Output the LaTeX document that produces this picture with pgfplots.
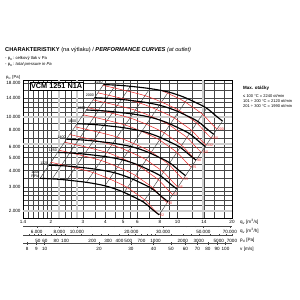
\documentclass[border=0pt]{standalone}
\usepackage{pgfplots}
\pgfplotsset{compat=1.18}
\usepackage{fontspec}
\setmainfont{Liberation Sans}
\definecolor{gridc}{RGB}{70,70,70}
\definecolor{redc}{RGB}{235,40,40}
\definecolor{hl}{RGB}{205,205,205}
\pgfplotsset{
  redl/.style={redc, line width=0.5pt, smooth},
  fan/.style={black, line width=1.15pt, smooth},
  sysl/.style={gridc, line width=0.45pt}
}
\begin{document}
\begin{tikzpicture}
\path[use as bounding box] (0pt,0pt) rectangle (300pt,300pt);
\node[anchor=west, inner sep=0, font=\fontsize{5.7}{6}\selectfont] at (5pt,250pt) {\textbf{CHARAKTERISTIKY} (na výtlaku) / \textbf{\textit{PERFORMANCE CURVES}} \textit{(at outlet)}};
\node[anchor=west, inner sep=0, font=\fontsize{4.2}{5}\selectfont] at (5pt,241.5pt) {- p\textsubscript{tc}: celkový tlak v Pa};
\node[anchor=west, inner sep=0, font=\fontsize{4.2}{5}\selectfont] at (5pt,235.5pt) {- p\textsubscript{tc}: \textit{total pressure in Pa}};
\node[anchor=west, inner sep=0, font=\fontsize{4.2}{5}\selectfont] at (6pt,223pt) {p\textsubscript{tc} [Pa]};
\node[anchor=west, inner sep=0, font=\bfseries\fontsize{4.5}{5}\selectfont] at (243pt,212pt) {Max. otáčky};
\node[anchor=west, inner sep=0, align=left, font=\fontsize{4}{5.2}\selectfont] at (243pt,199pt) {≤ 100 °C = 2240 ot/min\\101 ÷ 200 °C = 2120 ot/min\\201 ÷ 300 °C = 1990 ot/min};
\begin{axis}[at={(23pt,82pt)}, anchor=south west, width=209pt, height=138pt, scale only axis,
  xmode=log, ymode=log, xmin=1.4, xmax=20, ymin=1770, ymax=19000,
  xtick={1.4,2,3,4,5,6,8,10,14,20},
  xticklabels={1.4,2,3,4,5,6,8,10,14,20},
  ytick={2000,3000,4000,5000,6000,8000,10000,14000,18000},
  yticklabels={2.000,3.000,4.000,5.000,6.000,8.000,10.000,14.000,18.000},
  minor xtick={1.5,1.6,1.7,1.8,1.9,2.2,2.4,2.6,2.8,3.5,4.5,5.5,7,9,12,16,18},
  minor ytick={2200,2400,2600,2800,3500,4500,5500,7000,9000,11000,12000,13000,16000},
  grid=both, major grid style={gridc, line width=0.35pt}, minor grid style={gridc, line width=0.35pt},
  major tick length=0pt, minor tick length=0pt,
  axis line style={black, line width=0.5pt},
  tick label style={font=\fontsize{4.6}{5}\selectfont},
  xticklabel style={yshift=1.5pt}, yticklabel style={xshift=1pt}]
\addplot[hl, line width=2pt, forget plot] coordinates {(2.222,1770) (2.222,19000)};
\addplot[hl, line width=2pt, forget plot] coordinates {(2.778,1770) (2.778,19000)};
\addplot[hl, line width=2pt, forget plot] coordinates {(13.9,1770) (13.9,19000)};
\addplot[hl, line width=2pt, forget plot] coordinates {(1.4,2000) (20,2000)};
\addplot[hl, line width=2pt, forget plot] coordinates {(1.4,6300) (20,6300)};
\addplot[hl, line width=2pt, forget plot] coordinates {(1.4,10000) (20,10000)};
\addplot[sysl] coordinates {(1.74,3500) (3.898,17562)};
\addplot[sysl] coordinates {(2.024,3450) (4.534,17311)};
\addplot[sysl] coordinates {(2.45,3403) (5.488,17075)};
\addplot[sysl] coordinates {(3.14,3268) (7.034,16397)};
\addplot[sysl] coordinates {(3.97,3080) (8.893,15454)};
\addplot[sysl] coordinates {(5.06,2740) (11.334,13748)};
\addplot[sysl] coordinates {(6.47,2330) (14.493,11691)};
\addplot[sysl] coordinates {(7.91,1870) (17.718,9383)};
% red power lines [kW]
\addplot[redl] coordinates {(1.998,4614) (3.415,3866) (5.004,3113) (5.778,2745) (6.589,2416) (7.389,2051) (7.91,1870)};
\addplot[redl] coordinates {(2.216,5675) (3.787,4755) (5.549,3829) (6.408,3376) (7.307,2971) (8.194,2523) (8.772,2300)};
\addplot[redl] coordinates {(2.376,6524) (4.061,5467) (5.950,4402) (6.871,3881) (7.835,3416) (8.786,2900) (9.406,2644)};
\addplot[redl] coordinates {(2.537,7437) (4.336,6232) (6.353,5018) (7.336,4425) (8.365,3894) (9.381,3306) (10.04,3014)};
\addplot[redl] coordinates {(2.712,8499) (4.635,7121) (6.791,5734) (7.842,5056) (8.943,4450) (10.03,3778) (10.74,3445)};
\addplot[redl] coordinates {(3.007,10452) (5.140,8758) (7.532,7052) (8.697,6218) (9.917,5473) (11.12,4646) (11.91,4236)};
\addplot[redl] coordinates {(3.195,11802) (5.462,9889) (8.003,7962) (9.241,7021) (10.54,6180) (11.82,5246) (12.65,4783)};
\addplot[redl] coordinates {(3.417,13492) (5.840,11305) (8.557,9103) (9.880,8027) (11.27,7065) (12.64,5997) (13.53,5468)};
\addplot[redl] coordinates {(3.631,15235) (6.205,12765) (9.093,10279) (10.50,9064) (11.97,7977) (13.43,6772) (14.37,6175)};
\addplot[redl] coordinates {(3.871,17315) (6.616,14508) (9.694,11682) (11.19,10301) (12.76,9067) (14.31,7697) (15.32,7018)};
\addplot[redl] coordinates {(8.20,15805) (10.45,13567) (12.06,11963) (13.76,10529) (15.43,8938) (16.51,8150)};
% fan curves
\addplot[fan] coordinates {(1.74,3500) (2.24,3438) (3.14,3268) (3.97,3080) (4.78,2840) (5.60,2578) (6.47,2330) (7.34,2024) (7.91,1870)};
\addplot[fan] coordinates {(1.949,4390) (2.509,4313) (3.517,4099) (4.446,3864) (5.354,3562) (6.272,3234) (7.246,2923) (8.221,2539) (8.859,2346)};
\addplot[fan] coordinates {(2.175,5469) (2.8,5372) (3.925,5106) (4.963,4813) (5.975,4438) (7.0,4028) (8.088,3641) (9.175,3163) (9.888,2922)};
\addplot[fan] coordinates {(2.436,6860) (3.136,6738) (4.396,6405) (5.558,6037) (6.692,5566) (7.84,5053) (9.058,4567) (10.276,3967) (11.074,3665)};
\addplot[fan] coordinates {(2.784,8960) (3.584,8801) (5.024,8366) (6.352,7885) (7.648,7270) (8.96,6600) (10.352,5965) (11.744,5181) (12.656,4787)};
\addplot[fan] coordinates {(3.132,11340) (4.032,11139) (5.652,10588) (7.146,9979) (8.604,9202) (10.08,8353) (11.646,7549) (13.212,6558) (14.238,6059)};
\addplot[fan] coordinates {(3.48,14000) (4.48,13752) (6.28,13072) (7.94,12320) (9.56,11360) (11.2,10312) (12.94,9320) (14.68,8096) (15.82,7480)};
\addplot[fan] coordinates {(3.898,17562) (5.018,17250) (7.034,16397) (8.893,15454) (10.707,14250) (12.544,12935) (14.493,11691) (16.442,10156) (17.718,9383)};
\begin{scope}[every node/.style={font=\fontsize{3.6}{4}\selectfont, inner sep=0.6pt, anchor=south east}]
\node[align=center] at (axis cs:1.74,3500) {1000\\RPM};
\node at (axis cs:1.949,4390) {1120};
\node at (axis cs:2.175,5469) {1250};
\node at (axis cs:2.436,6860) {1400};
\node at (axis cs:2.784,8960) {1600};
\node at (axis cs:3.132,11340) {1800};
\node at (axis cs:3.48,14000) {2000};
\node at (axis cs:3.898,17562) {2240};
\end{scope}
\begin{scope}[every node/.style={font=\fontsize{3.6}{4}\selectfont, inner sep=0.8pt, anchor=west, text=redc}]
\node at (axis cs:7.91,1870) {22};
\node at (axis cs:8.772,2300) {30};
\node at (axis cs:9.406,2644) {37};
\node at (axis cs:10.04,3014) {45};
\node at (axis cs:10.74,3445) {55};
\node at (axis cs:11.91,4236) {75};
\node at (axis cs:12.65,4783) {90};
\node at (axis cs:13.53,5468) {110};
\node at (axis cs:14.37,6175) {132};
\node at (axis cs:15.32,7018) {160};
\node at (axis cs:16.51,8150) {200};
\end{scope}
\end{axis}
\node[anchor=north west, draw=black, line width=0.5pt, fill=white, inner sep=1.3pt, font=\bfseries\fontsize{7.3}{8}\selectfont] at (29.5pt,217.8pt) {VCM 1251 N1A};
\begin{axis}[at={(23pt,73.3pt)}, anchor=south west, width=209pt, height=1pt, scale only axis,
  xmode=log, xmin=5040, xmax=72000, ymin=0, ymax=1,
  axis y line=none, axis x line*=bottom,
  axis line style={gridc, line width=0.4pt}, tick align=center,
  major tick length=2.2pt, minor tick length=1.3pt, tick style={gridc, line width=0.35pt},
  tick label style={font=\fontsize{4.6}{5}\selectfont}, xticklabel style={yshift=0.8pt},
  xtick={6000,8000,10000,20000,30000,50000,70000},
  xticklabels={6.000,8.000,10.000,20.000,30.000,50.000,70.000},
  minor xtick={5500,6500,7000,7500,8500,9000,9500,12000,14000,16000,18000,25000,35000,40000,45000,60000}]
\addplot[draw=none] coordinates {(6000,0.5) (60000,0.5)};
\end{axis}
\begin{axis}[at={(23pt,65pt)}, anchor=south west, width=209pt, height=1pt, scale only axis,
  xmode=log, xmin=34.3, xmax=7003, ymin=0, ymax=1,
  axis y line=none, axis x line*=bottom,
  axis line style={gridc, line width=0.4pt}, tick align=center,
  major tick length=2.2pt, minor tick length=1.3pt, tick style={gridc, line width=0.35pt},
  tick label style={font=\fontsize{4.6}{5}\selectfont}, xticklabel style={yshift=0.8pt},
  xtick={50,60,80,100,200,300,400,500,700,1000,2000,3000,5000,7000},
  xticklabels={50,60,80,100,200,300,400,500,700,1000,2000,3000,5000,7000},
  minor xtick={40,45,55,70,90,150,250,600,800,900,1500,2500,4000,6000}]
\addplot[draw=none] coordinates {(50,0.5) (5000,0.5)};
\end{axis}
\begin{axis}[at={(23pt,56.5pt)}, anchor=south west, width=209pt, height=1pt, scale only axis,
  xmode=log, xmin=7.60, xmax=108.6, ymin=0, ymax=1,
  axis y line=none, axis x line*=bottom,
  axis line style={gridc, line width=0.4pt}, tick align=center,
  major tick length=2.2pt, minor tick length=1.3pt, tick style={gridc, line width=0.35pt},
  tick label style={font=\fontsize{4.6}{5}\selectfont}, xticklabel style={yshift=0.8pt},
  xtick={8,9,10,20,30,40,50,60,70,80,90,100},
  xticklabels={8,9,10,20,30,40,50,60,70,80,90,100},
  minor xtick={12,14,16,18,25,35,45,55,65,75,85,95}]
\addplot[draw=none] coordinates {(10,0.5) (100,0.5)};
\end{axis}
\begin{scope}[every node/.style={anchor=west, inner sep=0, font=\fontsize{4.6}{5}\selectfont}]
\node at (240pt,78pt) {q\textsubscript{v} [m\textsuperscript{3}/s]};
\node at (240pt,68.8pt) {q\textsubscript{v} [m\textsuperscript{3}/h]};
\node at (240pt,59.8pt) {p\textsubscript{d} [Pa]};
\node at (240pt,51pt) {v [m/s]};
\end{scope}
\end{tikzpicture}
\end{document}
